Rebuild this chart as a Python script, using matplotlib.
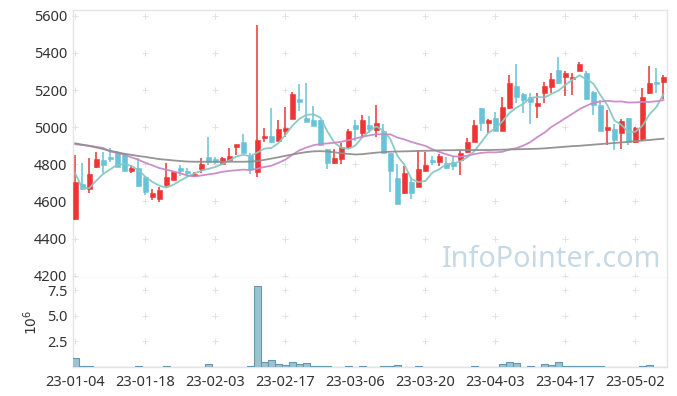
import numpy as np
import pandas as pd
import matplotlib
matplotlib.use("Agg")
import matplotlib.pyplot as plt

# ---- data (trading-day series) ----
opens = [4505, 4692, 4665, 4784, 4823, 4833, 4868, 4855, 4765, 4778,
         4733, 4625, 4615, 4690, 4715, 4778, 4760, 4737, 4775, 4837,
         4823, 4800, 4823, 4895, 4922, 4850, 4760, 4941, 4952, 4927,
         4981, 5045, 5151, 5049, 5038, 5038, 4881, 4808, 4828, 4891,
         5011, 4967, 5011, 4985, 4979, 4859, 4724, 4647, 4703, 4679,
         4765, 4814, 4811, 4809, 4811, 4823, 4864, 4922, 5101, 5021,
         5047, 4981, 5101, 5221, 5178, 5164, 5116, 5185, 5218, 5308,
         5268, 5258, 5304, 5290, 5191, 5119, 4985, 4988, 4967, 5047,
         4922, 4935, 5185, 5238, 5245]
highs = [4849, 4805, 4832, 4868, 4864, 4889, 4873, 4862, 4796, 4832,
         4735, 4665, 4679, 4805, 4764, 4796, 4778, 4760, 4832, 4949,
         4837, 4840, 4886, 4906, 4963, 4860, 5550, 4994, 5101, 5038,
         5107, 5191, 5232, 5236, 5112, 5040, 4883, 4881, 4913, 4988,
         5040, 5065, 5060, 5119, 5015, 4860, 4801, 4791, 4730, 4877,
         4864, 4845, 4855, 4841, 4837, 4877, 4940, 5038, 5103, 5045,
         5083, 5164, 5281, 5340, 5186, 5183, 5182, 5245, 5290, 5376,
         5304, 5293, 5350, 5304, 5193, 5146, 5092, 5017, 5042, 5049,
         5000, 5209, 5329, 5317, 5281]
lows = [4500, 4660, 4647, 4782, 4751, 4814, 4787, 4762, 4751, 4676,
        4635, 4608, 4598, 4676, 4713, 4735, 4733, 4730, 4751, 4796,
        4801, 4796, 4818, 4850, 4859, 4748, 4733, 4922, 4913, 4925,
        4945, 5043, 5089, 5028, 5006, 4900, 4773, 4801, 4800, 4888,
        4925, 4949, 4967, 4949, 4860, 4650, 4585, 4640, 4611, 4677,
        4763, 4796, 4792, 4776, 4769, 4742, 4862, 4920, 4979, 4967,
        4980, 4979, 5100, 5128, 5075, 5017, 5047, 5128, 5182, 5234,
        5169, 5173, 5302, 5148, 5065, 4980, 4904, 4877, 4881, 4904,
        4913, 4927, 5180, 5182, 5150]
closes = [4705, 4665, 4748, 4828, 4798, 4828, 4787, 4764, 4781, 4685,
          4652, 4647, 4660, 4730, 4760, 4765, 4752, 4748, 4800, 4814,
          4815, 4832, 4845, 4904, 4862, 4775, 4931, 4952, 4922, 4990,
          4997, 5178, 5137, 5030, 5006, 4905, 4808, 4832, 4895, 4979,
          4990, 5038, 4990, 5024, 4862, 4765, 4585, 4751, 4647, 4773,
          4796, 4810, 4845, 4778, 4789, 4862, 4918, 5011, 5021, 5038,
          4981, 5107, 5236, 5164, 5146, 5137, 5132, 5221, 5259, 5236,
          5290, 5272, 5340, 5150, 5119, 4981, 4999, 4931, 5033, 4922,
          4994, 5160, 5236, 5234, 5268]
volumes_m = [0.92, 0.14, 0.14, 0.04, 0.04, 0.04, 0.04, 0.04, 0.04, 0.14,
             0.05, 0.05, 0.05, 0.13, 0.05, 0.05, 0.01, 0.01, 0.05, 0.33,
             0.05, 0.05, 0.05, 0.05, 0.05, 0.12, 7.91, 0.46, 0.66, 0.33,
             0.23, 0.53, 0.27, 0.43, 0.14, 0.14, 0.14, 0.05, 0.05, 0.14,
             0.05, 0.14, 0.05, 0.05, 0.14, 0.14, 0.23, 0.05, 0.05, 0.14,
             0.01, 0.01, 0.05, 0.05, 0.05, 0.05, 0.05, 0.14, 0.05, 0.05,
             0.05, 0.33, 0.52, 0.43, 0.05, 0.14, 0.05, 0.33, 0.23, 0.46,
             0.13, 0.13, 0.13, 0.13, 0.13, 0.13, 0.03, 0.03, 0.03, 0.03,
             0.05, 0.14, 0.23, 0.05, 0.05]
# moving-average values before enough history is visible
ma5_head = [4751, 4672, 4672, 4712]
ma20_head = [4908, 4904, 4900, 4894, 4888, 4868, 4862, 4852, 4838, 4825,
             4808, 4795, 4780, 4771, 4762, 4752, 4740, 4735, 4740]
ma60 = [4913, 4906, 4899, 4891, 4882, 4873, 4865, 4857, 4851, 4845,
        4840, 4834, 4828, 4825, 4821, 4818, 4815, 4814, 4814, 4814,
        4814, 4814, 4814, 4814, 4814, 4815, 4818, 4824, 4831, 4838,
        4846, 4853, 4860, 4866, 4870, 4871, 4869, 4865, 4860, 4856,
        4853, 4855, 4859, 4863, 4866, 4868, 4869, 4870, 4871, 4872,
        4873, 4874, 4875, 4876, 4876, 4877, 4877, 4877, 4877, 4877,
        4878, 4879, 4880, 4881, 4882, 4883, 4884, 4886, 4889, 4892,
        4895, 4898, 4900, 4903, 4906, 4909, 4912, 4915, 4918, 4921,
        4925, 4928, 4931, 4935, 4938]
tick_labels = ["23-01-04", "23-01-18", "23-02-03", "23-02-17", "23-03-06",
               "23-03-20", "23-04-03", "23-04-17", "23-05-02"]
price_ticks = [4200, 4400, 4600, 4800, 5000, 5200, 5400, 5600]
vol_ticks = [2.5, 5.0, 7.5]

# ---- derived ----
o = np.array(opens, float); h = np.array(highs, float)
l = np.array(lows, float); c = np.array(closes, float)
n = len(c)
idx = np.arange(n)
cs = pd.Series(c)
ma5 = cs.rolling(5).mean().to_numpy()
ma5[:4] = ma5_head
ma20 = cs.rolling(20).mean().to_numpy()
ma20[:19] = ma20_head
tick_idx = np.arange(0, len(tick_labels) * 10, 10)

UP = "#ee3434"
DOWN = "#68c2d8"
GRIDC = "#e2e2e2"
SPINE = "#e4e4e4"
TXT = "#333333"

plt.rcParams['font.family'] = ['Noto Sans', 'DejaVu Sans']

fig = plt.figure(figsize=(6.77, 3.96), dpi=100)
ax = fig.add_axes([0.1078, 0.298, 0.8774, 0.6767])
axv = fig.add_axes([0.1078, 0.0732, 0.8774, 0.2248], sharex=ax)

up = c >= o
colors = np.where(up, UP, DOWN)
body_bottom = np.minimum(o, c)
body_h = np.maximum(np.abs(c - o), 12)

ax.vlines(idx, l, h, colors=colors, linewidth=1.1, zorder=2)
ax.bar(idx, body_h, bottom=body_bottom, width=0.72, color=colors,
       edgecolor=colors, linewidth=0.4, zorder=3)

ax.plot(idx, ma5, color="#86c9c2", lw=1.3, zorder=4, alpha=0.95)
ax.plot(idx, ma20, color="#c98ac6", lw=1.3, zorder=4, alpha=0.95)
ax.plot(idx, ma60, color="#8f8f8f", lw=1.3, zorder=4, alpha=0.95)

ax.set_ylim(4188, 5631)
ax.set_xlim(-0.33, 84.5)
ax.set_yticks(price_ticks)
ax.set_yticklabels([str(t) for t in price_ticks])

# grid as "+" markers at tick intersections
gx, gy = np.meshgrid(tick_idx, price_ticks)
ax.scatter(gx.ravel(), gy.ravel(), marker="+", s=14, color=GRIDC,
           linewidths=0.7, zorder=1, clip_on=False)

axv.bar(idx, volumes_m, width=1.0, color="#9dc3d3", edgecolor="#6598ae",
        linewidth=0.8, zorder=3)
axv.set_ylim(0, 8.7)
axv.set_yticks(vol_ticks)
axv.set_yticklabels(["2.5", "5.0", "7.5"])
gx2, gy2 = np.meshgrid(tick_idx, vol_ticks)
axv.scatter(gx2.ravel(), gy2.ravel(), marker="+", s=14, color=GRIDC,
            linewidths=0.7, zorder=1)
axv.set_xticks(tick_idx)
axv.set_xticklabels(tick_labels)
axv.set_ylabel("$10^6$", color=TXT, fontsize=10, labelpad=4)
plt.setp(ax.get_xticklabels(), visible=False)

for a in (ax, axv):
    for s in a.spines.values():
        s.set_color(SPINE)
        s.set_linewidth(1.0)
    a.tick_params(length=0, colors=TXT, labelsize=10.5, pad=4)
axv.spines['top'].set_visible(False)
axv.tick_params(axis='x', pad=6)

fig.text(0.653, 0.325, "InfoPointer.com", fontsize=20.7, color="#c6d9e4",
         ha="left", va="baseline", family="Noto Sans", zorder=0)

fig.savefig("out.png", dpi=100)
